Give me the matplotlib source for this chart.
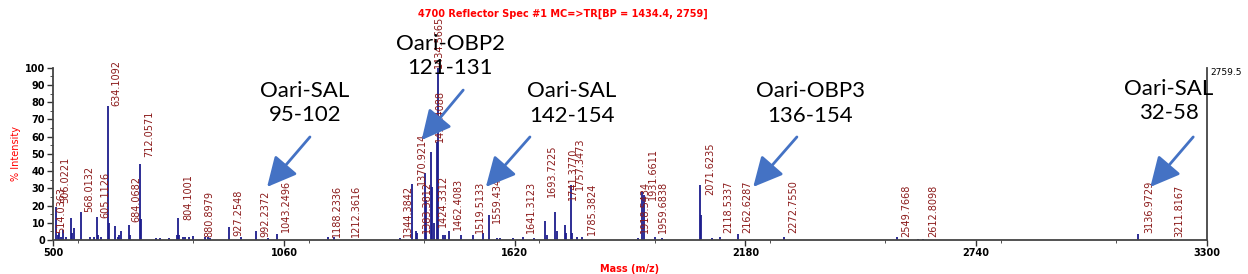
import matplotlib
matplotlib.use("Agg")
import matplotlib.pyplot as plt
from matplotlib.ticker import MultipleLocator

# peaks: m/z and % intensity
peak_mz = [506, 511, 514, 518, 524, 530, 542, 545, 550, 567, 590, 598, 605, 608, 615,
           634, 636, 650, 657, 660, 664, 684, 687, 711, 713, 750, 760, 780, 800, 803,
           806, 815, 820, 830, 840, 868, 876, 880, 927, 955, 991, 1020, 1042, 1167,
           1182, 1342, 1371, 1380, 1384, 1402, 1405, 1417, 1420, 1423, 1431, 1435,
           1447, 1451, 1461, 1490, 1518, 1544, 1558, 1576, 1584, 1617, 1641, 1668,
           1694, 1698, 1718, 1722, 1741, 1744, 1757, 1760, 1771, 1783, 1920, 1930,
           1935, 1961, 1978, 2070, 2071, 2099, 2119, 2163, 2274, 2549, 2598, 2612,
           3134, 3212]
peak_int = [19, 3, 4, 2, 6, 2, 13, 4, 7, 16.5, 2, 2, 13.5, 3, 2,
            78, 10, 8, 2, 3, 5, 9, 3, 44, 12, 1, 1, 1, 3, 12.7,
            3, 2, 1.5, 1.5, 2.5, 1.5, 2, 1, 7.5, 2, 5, 1, 3.5, 2,
            1.5, 1, 32.5, 5, 4, 39, 23, 51, 31, 10, 57, 100,
            3, 3, 5.5, 3, 3, 4, 14.5, 1, 1, 1, 2, 1,
            11, 3, 16.5, 5, 8.7, 4, 32, 4, 1.5, 1.5, 1, 28,
            26, 2, 1, 32, 14.5, 1, 2, 3.5, 1.5, 2, 0.5, 0.5,
            3.5, 0.5]

# peak labels: text, position (m/z) and bottom of text (% intensity)
label_text = ["506.0221", "514.0363", "568.0132", "605.1126", "634.1092", "684.0682",
              "712.0571", "804.1001", "880.8979", "927.2548", "992.2372", "1043.2496",
              "1188.2336", "1212.3616", "1344.3842", "1370.9214", "1383.3812",
              "1434.5665", "1418.4088", "1424.3312", "1462.4083", "1519.5133",
              "1559.4348", "1641.3123", "1693.7225", "1741.3770", "1757.3473",
              "1785.3824", "1918.5434", "1931.6611", "1959.6838", "2071.6235",
              "2118.5337", "2162.6287", "2272.7550", "2549.7668", "2612.8098",
              "3136.9729", "3211.8167"]
label_mz = [530, 520, 587, 626, 654, 702, 733, 827, 880, 949, 1016, 1065,
            1189, 1235, 1362, 1394, 1406, 1436, 1439, 1446, 1482, 1536,
            1577, 1660, 1710, 1762, 1779, 1807, 1936, 1956, 1980, 2094,
            2138, 2184, 2295, 2570, 2636, 3160, 3233]
label_y = [21.5, 4, 16, 12.5, 77.7, 10.6, 48, 11.6, 1.7, 2.3, 2, 4.8,
           1.7, 1.7, 1.7, 32, 4, 100, 57, 7.5, 5.8, 4,
           10, 4, 25, 23, 29, 3, 4, 23, 4, 26,
           4, 4, 4, 2, 2, 4, 2]

# callouts: text, text centre, arrow tail and arrow tip (m/z, %)
call_text = ["Oari-SAL\n95-102", "Oari-OBP2\n121-131", "Oari-SAL\n142-154",
             "Oari-OBP3\n136-154", "Oari-SAL\n32-58"]
call_xy = [(1111, 79.5), (1463, 106.8), (1759, 79), (2337, 79), (3208, 80.7)]
tail_xy = [(1123, 59.8), (1495, 87), (1657, 59.8), (2305, 59.8), (3267, 59.8)]
tip_xy = [(1019, 30.8), (1394, 58), (1550, 30.8), (2199, 30.8), (3163, 30.8)]

xticks = [500, 1060, 1620, 2180, 2740, 3300]

narrow = ["Liberation Sans Narrow", "DejaVu Sans"]

fig = plt.figure(figsize=(12.48, 2.74), dpi=100)
ax = fig.add_axes([0.0427, 0.124, 0.9243, 0.629])

ax.vlines(peak_mz, 0, peak_int, color="#1c1c8c", lw=1.3)

for txt, x, y in zip(label_text, label_mz, label_y):
    ax.text(x, y, txt, rotation=90, ha="center", va="bottom", fontsize=7,
            family=narrow, color="#8b1a1a", clip_on=False)

for txt, cxy, t0, t1 in zip(call_text, call_xy, tail_xy, tip_xy):
    ax.text(cxy[0], cxy[1], txt, ha="center", va="center", fontsize=16,
            family="Lato", color="black", linespacing=1.3, clip_on=False)
    ax.annotate("", xy=t1, xytext=t0,
                arrowprops=dict(arrowstyle="-|>,head_length=0.9,head_width=0.45",
                                color="#4472c4", lw=2, mutation_scale=20,
                                shrinkA=0, shrinkB=0),
                annotation_clip=False)

ax.set_xlim(500, 3300)
ax.set_ylim(0, 100)
ax.set_xticks(xticks)
ax.xaxis.set_minor_locator(MultipleLocator(280))
ax.yaxis.set_major_locator(MultipleLocator(10))
ax.yaxis.set_minor_locator(MultipleLocator(5))
ax.tick_params(labelsize=7, width=1, length=4, color="#333333", pad=2)
ax.tick_params(which="minor", length=2, color="#333333")
for lab in ax.get_xticklabels() + ax.get_yticklabels():
    lab.set_fontweight("bold")
ax.spines["top"].set_visible(False)
for s in ("left", "bottom", "right"):
    ax.spines[s].set_color("#444444")
    ax.spines[s].set_linewidth(1.3)

ax.set_xlabel("Mass (m/z)", fontsize=7, color="red", fontweight="bold", labelpad=4)
ax.set_ylabel("% Intensity", fontsize=7, color="red", labelpad=3)
ax.text(1.003, 0.97, "2759.5", transform=ax.transAxes, fontsize=6.5,
        family=narrow, ha="left", va="center")
fig.text(0.451, 0.95, "4700 Reflector Spec #1 MC=>TR[BP = 1434.4, 2759]",
         ha="center", va="center", fontsize=7, color="red", fontweight="bold")

fig.savefig("out.png", dpi=100)
